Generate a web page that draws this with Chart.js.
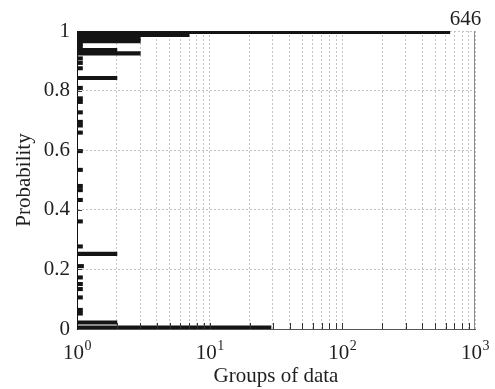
<!DOCTYPE html>
<html>
<head>
<meta charset="utf-8">
<script src="https://cdn.jsdelivr.net/npm/chart.js@4/dist/chart.umd.min.js"></script>
<style>
  html, body { margin: 0; padding: 0; background: #fff; }
</style>
</head>
<body>
<canvas id="groups" width="495" height="389"></canvas>
<script>
// probability level of each horizontal bar, and how many groups it reaches
const probabilities = [
  0.997, 0.987, 0.976, 0.966, 0.958, 0.948, 0.936, 0.925, 0.908, 0.893,
  0.875, 0.842, 0.809, 0.774, 0.762, 0.727, 0.695, 0.683, 0.659, 0.597,
  0.534, 0.480, 0.466, 0.433, 0.361, 0.277, 0.252, 0.211, 0.173, 0.151,
  0.134, 0.106, 0.064, 0.052, 0.022, 0.005
];
const groupCounts = [
  646, 7, 3, 3, 1.1, 1.1, 2, 3, 1.1, 1.1,
  1.1, 2, 1.1, 1.1, 1.1, 1.1, 1.1, 1.1, 1.1, 1.1,
  1.1, 1.1, 1.1, 1.1, 1.1, 1.1, 2, 1.12, 1.1, 1.1,
  1.1, 1.1, 1.1, 1.1, 2, 29
];
const decades = [0, 1, 2, 3];
const yTicks = [0, 0.2, 0.4, 0.6, 0.8, 1];

const SERIF = '"Liberation Serif", "Times New Roman", serif';
const INK = '#1f1f1f';
const FONT_SIZE = 21;

const bars = probabilities.map((p, i) => ({ y: p, x: [1, groupCounts[i]] }));

// log ticks: 1..9 in every decade up to 1000
function logTicks() {
  const out = [];
  for (let d = 0; d < 3; d++) {
    for (let m = 1; m < 10; m++) out.push({ value: m * Math.pow(10, d) });
  }
  out.push({ value: 1000 });
  return out;
}

const decor = {
  id: 'decor',
  afterDraw(chart) {
    const { ctx, chartArea: a, scales: { x, y } } = chart;
    ctx.save();

    // right edge of the box
    ctx.strokeStyle = '#8c8c8c';
    ctx.lineWidth = 1;
    ctx.beginPath();
    ctx.moveTo(a.right - 0.5, a.top);
    ctx.lineTo(a.right - 0.5, a.bottom);
    ctx.stroke();

    // tick marks pointing into the plot
    ctx.strokeStyle = '#333';
    ctx.beginPath();
    x.ticks.forEach(t => {
      if (t.value <= 1 || t.value >= 1000) return;
      const px = Math.round(x.getPixelForValue(t.value)) + 0.5;
      ctx.moveTo(px, a.bottom);
      ctx.lineTo(px, a.bottom - 6);
    });
    yTicks.forEach(v => {
      if (v === 0 || v === 1) return;
      const py = Math.round(y.getPixelForValue(v)) + 0.5;
      ctx.moveTo(a.left, py);
      ctx.lineTo(a.left + 5, py);
    });
    ctx.stroke();

    // decade labels 10^k
    ctx.fillStyle = INK;
    ctx.textBaseline = 'alphabetic';
    ctx.textAlign = 'left';
    const base = FONT_SIZE + 'px ' + SERIF;
    const sup = '14px ' + SERIF;
    decades.forEach(k => {
      const px = x.getPixelForValue(Math.pow(10, k));
      ctx.font = base;
      const wBase = ctx.measureText('10').width;
      ctx.font = sup;
      const wExp = ctx.measureText(String(k)).width;
      const left = px - (wBase + wExp) / 2;
      ctx.font = base;
      ctx.fillText('10', left, a.bottom + 30);
      ctx.font = sup;
      ctx.fillText(String(k), left + wBase + 0.5, a.bottom + 21);
    });

    // value at the end of the longest bar
    const meta = chart.getDatasetMeta(0);
    let top = 0;
    groupCounts.forEach((v, i) => { if (v > groupCounts[top]) top = i; });
    const el = meta.data[top];
    ctx.font = base;
    ctx.fillText(String(groupCounts[top]), el.x, el.y - 7);

    ctx.restore();
  }
};

new Chart(document.getElementById('groups'), {
  type: 'bar',
  data: {
    datasets: [{
      data: bars,
      backgroundColor: '#141414',
      borderWidth: 0,
      barThickness: 3.4
    }]
  },
  options: {
    indexAxis: 'y',
    responsive: false,
    animation: false,
    events: [],
    layout: { padding: { top: 31, right: 20, left: 0, bottom: 0 } },
    plugins: {
      legend: { display: false },
      tooltip: { enabled: false }
    },
    scales: {
      x: {
        type: 'logarithmic',
        min: 1,
        max: 1000,
        offset: false,
        afterBuildTicks: scale => { scale.ticks = logTicks(); },
        afterFit: scale => { scale.height = 60; },
        ticks: { display: false },
        grid: { color: '#c4c4c4', lineWidth: 1, drawTicks: false, offset: false },
        border: { color: '#555', width: 1, dash: [2, 2] },
        title: {
          display: true,
          text: 'Groups of data',
          color: INK,
          font: { family: SERIF, size: FONT_SIZE, lineHeight: 1.2 },
          padding: { top: 0, bottom: 0 }
        }
      },
      y: {
        type: 'linear',
        min: 0,
        max: 1,
        offset: false,
        afterBuildTicks: scale => { scale.ticks = yTicks.map(v => ({ value: v })); },
        afterFit: scale => { scale.width = 77; },
        ticks: {
          color: INK,
          padding: 7,
          font: { family: SERIF, size: FONT_SIZE },
          callback: v => String(Math.round(v * 10) / 10)
        },
        grid: { color: '#c4c4c4', lineWidth: 1, drawTicks: false, offset: false },
        border: { color: '#111', width: 1, dash: [2, 2] },
        title: {
          display: true,
          text: 'Probability',
          color: INK,
          font: { family: SERIF, size: FONT_SIZE, lineHeight: 1.2 },
          padding: { top: 12, bottom: 0 }
        }
      }
    }
  },
  plugins: [decor]
});
</script>
</body>
</html>
